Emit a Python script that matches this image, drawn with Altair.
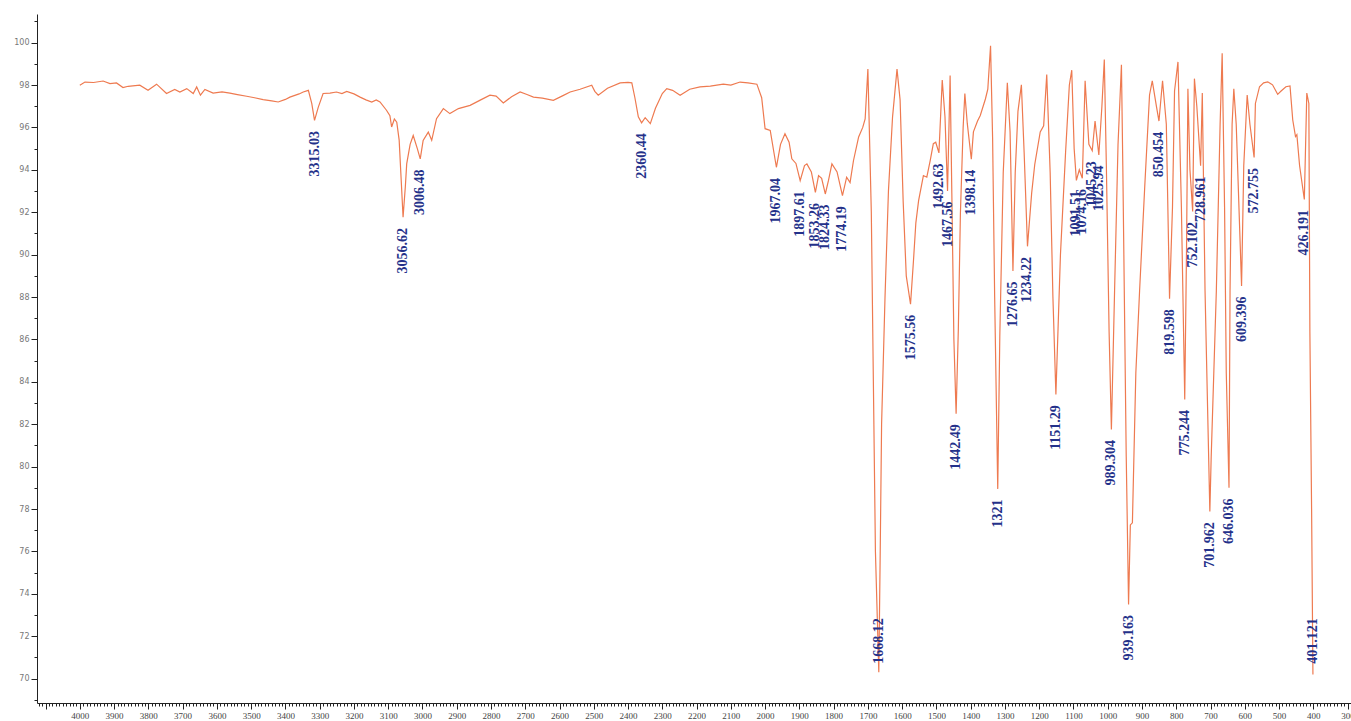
import altair as alt
import pandas as pd

# FT-IR spectrum: wavenumber (cm-1) against transmittance (%)
wavenumber = [
    4000, 3985, 3960, 3932, 3912, 3893, 3874, 3859, 3825, 3801, 3776, 3747, 3723, 3708,
    3688, 3669, 3659, 3648, 3635, 3611, 3585, 3562, 3540, 3513, 3490, 3465, 3440, 3421,
    3400, 3387, 3360, 3348, 3333, 3323, 3315.03, 3304, 3290, 3270, 3251, 3235, 3221, 3200,
    3182, 3165, 3148, 3135, 3124, 3105, 3095, 3090, 3082, 3075, 3068, 3062, 3056.62, 3050,
    3046, 3036, 3027, 3015, 3006.48, 2998, 2983, 2973, 2959, 2939, 2920, 2895, 2861, 2830,
    2803, 2785, 2764, 2740, 2715, 2695, 2676, 2650, 2618, 2590, 2569, 2540, 2506, 2497,
    2487, 2460, 2423, 2400, 2389, 2380, 2370, 2360.44, 2350, 2335, 2320, 2300, 2287, 2270,
    2248, 2220, 2190, 2160, 2122, 2100, 2073, 2050, 2024, 2010, 2000, 1985, 1967.04, 1955,
    1942, 1930, 1922, 1910, 1897.61, 1885, 1878, 1865, 1853.26, 1844, 1835, 1824.33, 1815,
    1805, 1790, 1774.19, 1762, 1752, 1742, 1727, 1715, 1708, 1700, 1690, 1684, 1678,
    1668.12, 1664, 1660, 1650, 1640, 1628, 1615, 1606, 1597, 1588, 1575.56, 1567, 1560,
    1552, 1538, 1528, 1518, 1509, 1502, 1492.63, 1483, 1475, 1467.56, 1460, 1455, 1449,
    1442.49, 1436, 1430, 1422, 1417, 1410, 1398.14, 1392, 1380, 1372, 1357, 1350, 1342,
    1336, 1330, 1321, 1315, 1305, 1293, 1285, 1276.65, 1270, 1262, 1252, 1244, 1234.22,
    1222, 1213, 1197, 1187, 1178, 1168, 1160, 1151.29, 1145, 1138, 1123, 1112, 1105, 1098,
    1091.51, 1083, 1074.16, 1066, 1055, 1045.23, 1037, 1025.94, 1017, 1010, 1004, 996,
    989.304, 980, 970, 960, 956, 946, 939.163, 934, 928, 918, 907, 892, 878, 870, 858,
    850.454, 840, 829, 819.598, 811, 805, 795, 785, 775.244, 770, 766, 760, 752.102, 747,
    740, 728.961, 724, 716, 701.962, 698, 683, 672, 666, 659, 654, 646.036, 643, 637, 632,
    625, 615, 609.396, 603, 593, 585, 572.755, 569, 557, 545, 533, 519, 504, 494, 480, 468,
    460, 452, 448, 440, 426.191, 419, 413, 410, 405, 401.121,
]
transmittance = [
    97.99, 98.14, 98.12, 98.19, 98.07, 98.10, 97.88, 97.94, 97.99, 97.75, 98.04, 97.60, 97.79, 97.67,
    97.83, 97.60, 97.91, 97.52, 97.79, 97.62, 97.68, 97.62, 97.55, 97.47, 97.40, 97.31, 97.25, 97.20,
    97.32, 97.43, 97.58, 97.67, 97.75, 97.12, 96.33, 96.96, 97.60, 97.62, 97.67, 97.60, 97.70, 97.58,
    97.43, 97.30, 97.20, 97.30, 97.20, 96.81, 96.55, 96.02, 96.40, 96.25, 95.40, 93.50, 91.76, 93.20,
    94.28, 95.20, 95.62, 95.00, 94.52, 95.39, 95.78, 95.39, 96.41, 96.89, 96.65, 96.89, 97.04, 97.30,
    97.52, 97.48, 97.15, 97.45, 97.67, 97.55, 97.43, 97.38, 97.28, 97.50, 97.67, 97.80, 97.99, 97.70,
    97.52, 97.85, 98.10, 98.12, 98.10, 97.40, 96.50, 96.22, 96.46, 96.18, 96.90, 97.60, 97.83, 97.75,
    97.52, 97.80, 97.91, 97.95, 98.04, 98.00, 98.14, 98.10, 98.04, 97.40, 95.94, 95.86, 94.12, 95.20,
    95.70, 95.30, 94.52, 94.30, 93.49, 94.20, 94.28, 93.90, 92.94, 93.73, 93.60, 92.86, 93.50,
    94.28, 93.90, 92.78, 93.65, 93.40, 94.44, 95.55, 96.00, 96.40, 98.75, 92.00, 84.00, 76.00,
    70.30, 76.00, 82.00, 88.00, 93.00, 96.50, 98.75, 97.30, 92.50, 89.00, 87.66, 89.70, 91.50,
    92.55, 93.73, 93.65, 94.44, 95.23, 95.30, 94.80, 98.23, 96.50, 93.00, 98.45, 92.90, 86.00,
    82.50, 86.50, 91.93, 96.00, 97.60, 96.20, 94.50, 95.79, 96.30, 96.56, 97.34, 97.80, 99.85,
    95.50, 88.00, 78.95, 86.14, 93.86, 98.11, 95.79, 89.23, 93.86, 96.76, 98.01, 94.83, 90.39,
    92.90, 94.25, 95.79, 96.08, 98.50, 93.86, 88.00, 83.40, 86.50, 90.00, 94.83, 98.00, 98.70, 95.00,
    93.50, 94.00, 93.60, 98.20, 95.20, 94.90, 96.30, 94.70, 97.00, 99.20, 94.19, 86.36,
    81.75, 88.30, 95.17, 98.95, 94.19, 80.48, 73.50, 77.25, 77.35, 84.40, 88.30, 93.20, 97.53, 98.20, 97.00,
    96.30, 98.20, 96.15, 87.92, 92.23, 97.72, 99.09, 92.23, 83.17, 90.27, 97.82, 94.00, 92.04, 98.30,
    97.00, 94.19, 97.62, 88.30, 77.88, 80.48, 88.30, 96.15, 99.50, 92.23, 84.40, 79.00, 88.30, 96.15, 97.82,
    96.15, 91.25, 88.52, 94.19, 97.53, 96.15, 94.58, 97.13, 97.92, 98.10, 98.15, 98.01, 97.56, 97.72, 97.92, 97.96,
    96.35, 95.57, 95.66, 94.19, 92.60, 97.62, 97.13, 86.36, 78.00, 70.20,
]

# picked peaks, printed as the instrument reports them
peak_labels = [
    "3315.03", "3056.62", "3006.48", "2360.44", "1967.04", "1897.61", "1853.26",
    "1824.33", "1774.19", "1668.12", "1575.56", "1492.63", "1467.56", "1442.49",
    "1398.14", "1321", "1276.65", "1234.22", "1151.29", "1091.51", "1074.16",
    "1045.23", "1025.94", "989.304", "939.163", "850.454", "819.598", "775.244",
    "752.102", "728.961", "701.962", "646.036", "609.396", "572.755", "426.191",
    "401.121",
]

# axis tick positions: labelled major ticks and unlabelled minor ticks
x_major = list(range(300, 4101, 100))
x_minor = [v for v in range(300, 4121, 10) if v % 100 != 0]
y_major = list(range(70, 101, 2))
y_minor = list(range(69, 102, 2))

spectrum = pd.DataFrame({"wn": wavenumber, "t": transmittance})
lookup = dict(zip(wavenumber, transmittance))
peaks = pd.DataFrame({"label": peak_labels, "wn": [float(s) for s in peak_labels]})
peaks["t"] = [lookup[w] for w in peaks["wn"]]

x_scale = alt.Scale(domain=[290, 4125], reverse=True, nice=False, zero=False)
y_scale = alt.Scale(domain=[68.85, 101.35], nice=False, zero=False)

x_axis = alt.Axis(
    orient="bottom",
    values=x_major,
    title=None,
    grid=False,
    labelExpr="datum.value <= 4000 ? datum.label : ''",
    labelOverlap=False,
    labelFont="Liberation Serif",
    labelFontSize=9,
    labelColor="#444444",
    labelPadding=2,
    tickColor="#222222",
    tickSize=6,
    domainColor="#222222",
    format="d",
)
y_axis = alt.Axis(
    orient="left",
    values=y_major,
    title=None,
    grid=False,
    labelOverlap=False,
    labelFont="DejaVu Sans",
    labelFontSize=8,
    labelColor="#777777",
    labelPadding=2,
    tickColor="#222222",
    tickSize=6,
    domainColor="#222222",
    format="d",
)
x_minor_axis = alt.Axis(
    orient="bottom", values=x_minor, title=None, grid=False, labels=False,
    domain=False, tickSize=3, tickColor="#222222",
)
y_minor_axis = alt.Axis(
    orient="left", values=y_minor, title=None, grid=False, labels=False,
    domain=False, tickSize=3, tickColor="#222222",
)

line = alt.Chart(spectrum).mark_line(color="#EE7A50", strokeWidth=1.2, clip=True).encode(
    x=alt.X("wn:Q", scale=x_scale, axis=x_axis),
    y=alt.Y("t:Q", scale=y_scale, axis=y_axis),
)

labels = (
    alt.Chart(peaks)
    .transform_calculate(ty="max(datum.t - 0.5, 72.85)")
    .mark_text(
        angle=270,
        align="right",
        baseline="middle",
        font="Liberation Serif",
        fontSize=14,
        fontWeight="bold",
        color="#24318A",
    )
    .encode(
        x=alt.X("wn:Q", scale=x_scale, axis=x_minor_axis),
        y=alt.Y("ty:Q", scale=y_scale, axis=y_minor_axis),
        text="label:N",
    )
)

chart = (
    alt.layer(line, labels)
    .resolve_axis(x="independent", y="independent")
    .properties(
        width=1314,
        height=689,
        autosize=alt.AutoSizeParams(type="none"),
        padding={"left": 37, "top": 14, "right": 0, "bottom": 18},
        background="white",
    )
    .configure_view(stroke=None)
)

chart.save("out.html", embed_options={"renderer": "svg", "actions": False})
